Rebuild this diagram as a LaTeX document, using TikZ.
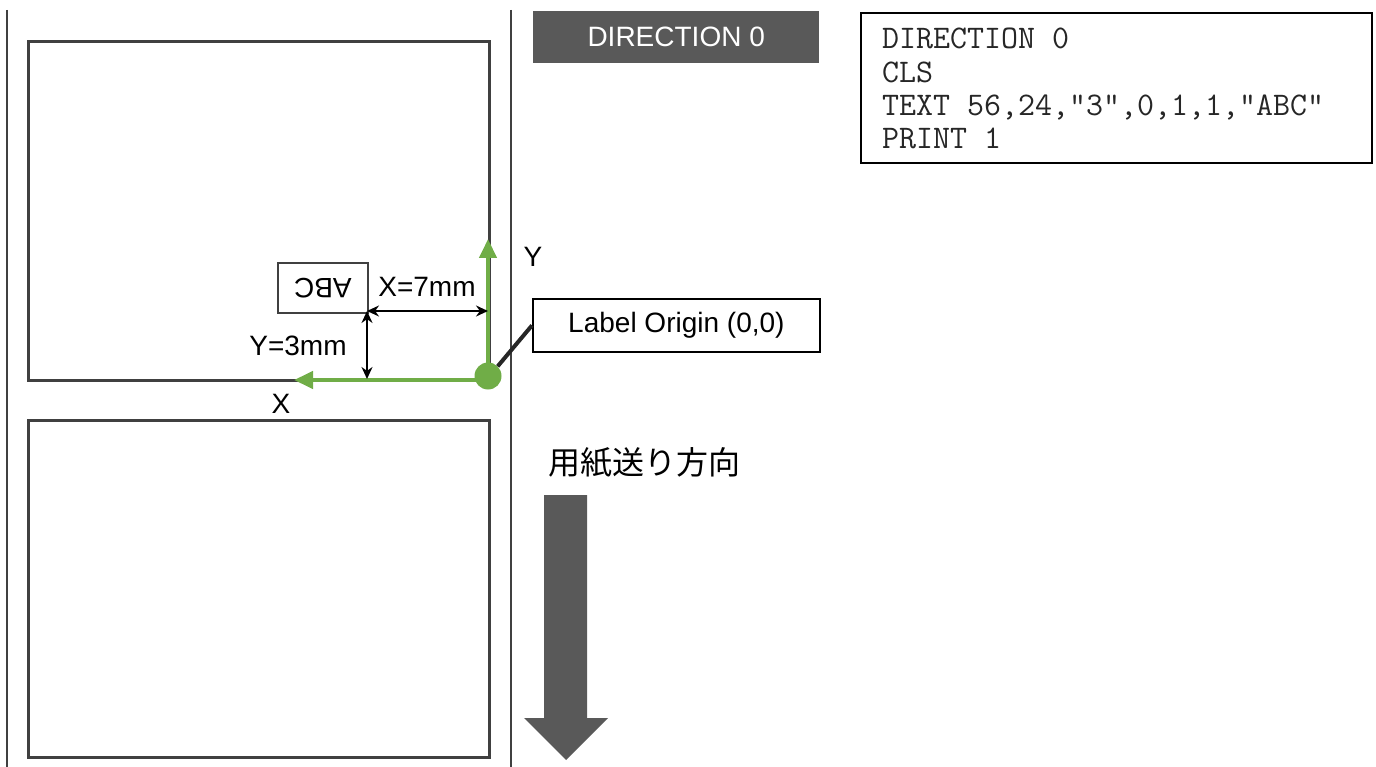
\documentclass[tikz,border=0pt]{standalone}
\usepackage{fontspec}
\setmainfont{Liberation Sans}
\newfontfamily\cjk{Noto Sans CJK JP}
\usetikzlibrary{arrows.meta}
\definecolor{lgreen}{HTML}{70AD47}
\definecolor{dgray}{HTML}{595959}
\definecolor{edge}{HTML}{404040}
\begin{document}
\begin{tikzpicture}[x=1pt,y=-1pt,
  every node/.style={font=\fontsize{28}{33}\selectfont},
  labelrect/.style={draw=edge,line width=3pt},
  feedline/.style={draw=edge,line width=2pt},
  greenarrow/.style={draw=lgreen,line width=4.5pt,-{Triangle[length=19pt,width=17pt]}},
  dimarrow/.style={draw=black,line width=1.5pt,{Stealth[length=12pt,width=11pt]}-{Stealth[length=12pt,width=11pt]}},
  callout/.style={draw=black,line width=1.8pt,fill=white,inner sep=0pt}
]
\useasboundingbox (0,0) rectangle (1376,767);

% paper edges
\draw[feedline] (7,10) -- (7,767);
\draw[feedline] (511,10) -- (511,767);

% labels
\draw[labelrect] (28,42) rectangle (489,380);
\draw[labelrect] (28,420) rectangle (489,757);

% coordinates
\coordinate (o) at (488,380);
\coordinate (ytip) at (488,239);
\coordinate (xtip) at (294,380);
\draw[greenarrow] (o) -- (ytip);
\draw[greenarrow] (o) -- (xtip);
\node[circle,fill=lgreen,minimum size=27pt,inner sep=0pt] (dot) at (488,376) {};
\node (ylab) at (533,257) {Y};
\node (xlab) at (281,404) {X};

% ABC text box
\node[draw=edge,line width=1.8pt,minimum width=90pt,minimum height=50pt,inner sep=0pt,anchor=north west] (abc) at (277,262) {};
\node[rotate=180] (abctext) at (abc.center) {ABC};

\coordinate (cA) at (367,311);
\coordinate (cB) at (488,311);
\coordinate (cC) at (367,379);
\draw[dimarrow] (cA) -- (cB);
\draw[dimarrow] (cA) -- (cC);
\node (xdim) at (427,287) {X=7mm};
\node (ydim) at (298,346) {Y=3mm};

% callout
\node[callout,minimum width=287pt,minimum height=53pt,anchor=north west] (origin) at (532,298) {Label Origin (0,0)};
\draw[black!85,line width=4pt] (dot.45) -- (origin.west);

% direction banner
\node[fill=dgray,text=white,minimum width=286pt,minimum height=52pt,inner sep=0pt,anchor=north west,text depth=0pt] (dir) at (533,11) {DIRECTION 0};

% code box
\node[draw=black,line width=1.8pt,minimum width=511pt,minimum height=150pt,inner sep=0pt,anchor=north west] (code) at (860,12) {};
\node[anchor=north west,align=left,inner sep=0pt,text=black!85,font=\ttfamily\fontsize{33}{33.3}\selectfont] (codetext) at (882,28)
  {DIRECTION 0\\CLS\\TEXT 56,24,"3",0,1,1,"ABC"\\PRINT 1};

% feed direction
\node[font=\cjk\fontsize{32}{36}\selectfont] (feed) at (644,463) {用紙送り方向};
\fill[dgray] (544,495) -- (587,495) -- (587,718) -- (608,718) -- (566,760) -- (524,718) -- (544,718) -- cycle;
\end{tikzpicture}
\end{document}
